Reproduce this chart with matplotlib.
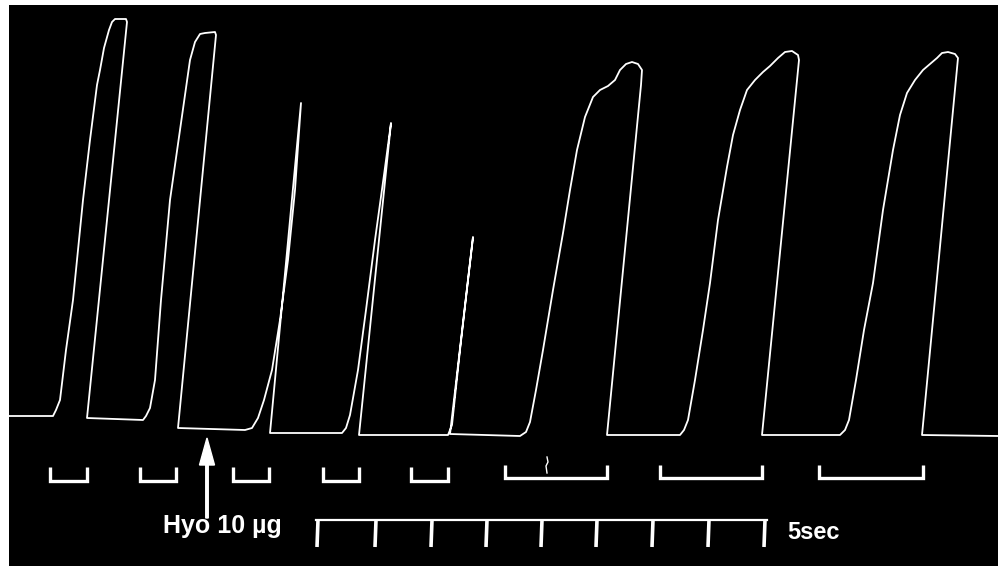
import numpy as np
import matplotlib
matplotlib.use("Agg")
import matplotlib.pyplot as plt

# recording is kept in kymograph units: x = chart travel, y = pen position
# (measured downwards from the top of the paper)

# contractions: rising limb points, then the pen drops back to the foot point
rise_1 = [(53, 416), (56, 410), (60, 400), (66, 350), (73, 300), (78, 250), (83, 200),
          (90, 140), (97, 85), (100, 70), (104, 48), (109, 30), (112, 22), (115, 19),
          (126, 19), (127, 22)]
rise_2 = [(143, 420), (146, 416), (150, 408), (155, 380), (161, 300), (170, 200),
          (180, 130), (186, 88), (190, 60), (195, 42), (200, 34), (205, 33), (215, 32),
          (216, 35)]
rise_3 = [(245, 430), (252, 428), (258, 418), (264, 400), (272, 370), (280, 320),
          (288, 260), (295, 190), (301, 103)]
rise_4 = [(342, 433), (346, 428), (350, 415), (358, 370), (366, 310), (375, 240),
          (384, 175), (391, 123)]
rise_5 = [(448, 435), (452, 425), (460, 350), (468, 280), (473, 237)]
rise_6 = [(520, 436), (526, 432), (530, 422), (536, 390), (543, 350), (553, 290),
          (563, 233), (570, 190), (577, 150), (585, 117), (593, 97), (600, 90),
          (608, 86), (615, 80), (620, 70), (626, 64), (632, 62), (638, 64), (642, 70),
          (641, 85)]
rise_7 = [(680, 435), (684, 430), (688, 420), (695, 380), (703, 330), (710, 283),
          (718, 220), (727, 167), (733, 135), (740, 110), (747, 90), (755, 80),
          (763, 72), (770, 66), (778, 58), (785, 52), (792, 51), (798, 55), (799, 60)]
rise_8 = [(840, 435), (845, 430), (849, 420), (856, 380), (864, 330), (873, 283),
          (883, 210), (893, 150), (900, 115), (907, 93), (915, 80), (923, 70),
          (930, 64), (937, 58), (942, 53), (948, 52), (955, 54), (958, 58)]
rises = [rise_1, rise_2, rise_3, rise_4, rise_5, rise_6, rise_7, rise_8]

# where each relaxation lands on the baseline
falls = [(87, 418), (178, 428), (270, 433), (359, 435), (450, 434), (607, 435),
         (762, 435), (922, 435)]

trace_start = (9, 416)
trace_end = (998, 436)

# stimulus signal marks (on, off)
stim_on = [50, 140, 233, 323, 411, 505, 660, 819]
stim_off = [87, 176, 269, 359, 448, 607, 762, 923]
stim_top = [467, 467, 467, 467, 467, 465, 465, 465]
stim_bot = [481, 481, 481, 481, 481, 478, 478, 478]

# time marker, 5 sec scale
time_ticks = [318, 376, 432, 487, 542, 597, 653, 709, 765]
time_line_y = 520
time_tick_y = 547

dose_x = 207
dose_label = "Hyo 10 µg"
time_label = "5sec"

# stitch the whole pen trace together
xs, ys = [trace_start[0]], [trace_start[1]]
for r, f in zip(rises, falls):
    for px, py in r:
        xs.append(px)
        ys.append(py)
    xs.append(f[0])
    ys.append(f[1])
xs.append(trace_end[0])
ys.append(trace_end[1])

fig = plt.figure(figsize=(10, 5.66), dpi=100, facecolor="white")
ax = fig.add_axes([0.009, 0.0, 0.989, 561 / 566])
ax.set_facecolor("black")
ax.set_xlim(9, 998)
ax.set_ylim(566, 5)
ax.set_axis_off()
ax.add_patch(plt.Rectangle((0, 0), 1, 1, transform=ax.transAxes,
                           facecolor="black", zorder=0))

ax.plot(xs, ys, color="white", lw=1.3, solid_joinstyle="round", zorder=3)

# stimulus brackets
for x0, x1, t, b in zip(stim_on, stim_off, stim_top, stim_bot):
    ax.plot([x0, x0, x1, x1], [t, b, b, t], color="white", lw=2.4,
            solid_joinstyle="miter", solid_capstyle="butt")

# a stray pen mark on the signal line
ax.plot([547, 548, 546, 547], [457, 462, 466, 473], color="white", lw=1.0)

# time scale
ax.plot([time_ticks[0] - 2, time_ticks[-1] + 2], [time_line_y, time_line_y],
        color="white", lw=1.6)
for tx in time_ticks:
    ax.plot([tx, tx - 1], [time_line_y, time_tick_y], color="white", lw=2.6,
            solid_capstyle="butt")

# drug addition arrow
ax.arrow(dose_x, 518, 0, -80, width=2.5, head_width=15, head_length=27,
         length_includes_head=True, color="white", zorder=4)

ax.text(163, 533, dose_label, color="white", fontsize=18, fontweight="bold",
        family=["Liberation Sans", "DejaVu Sans"], ha="left", va="baseline")
ax.text(787, 539, time_label, color="white", fontsize=17, fontweight="bold",
        family=["Liberation Sans", "DejaVu Sans"], ha="left", va="baseline")

fig.savefig("out.png", dpi=100, facecolor="white")
